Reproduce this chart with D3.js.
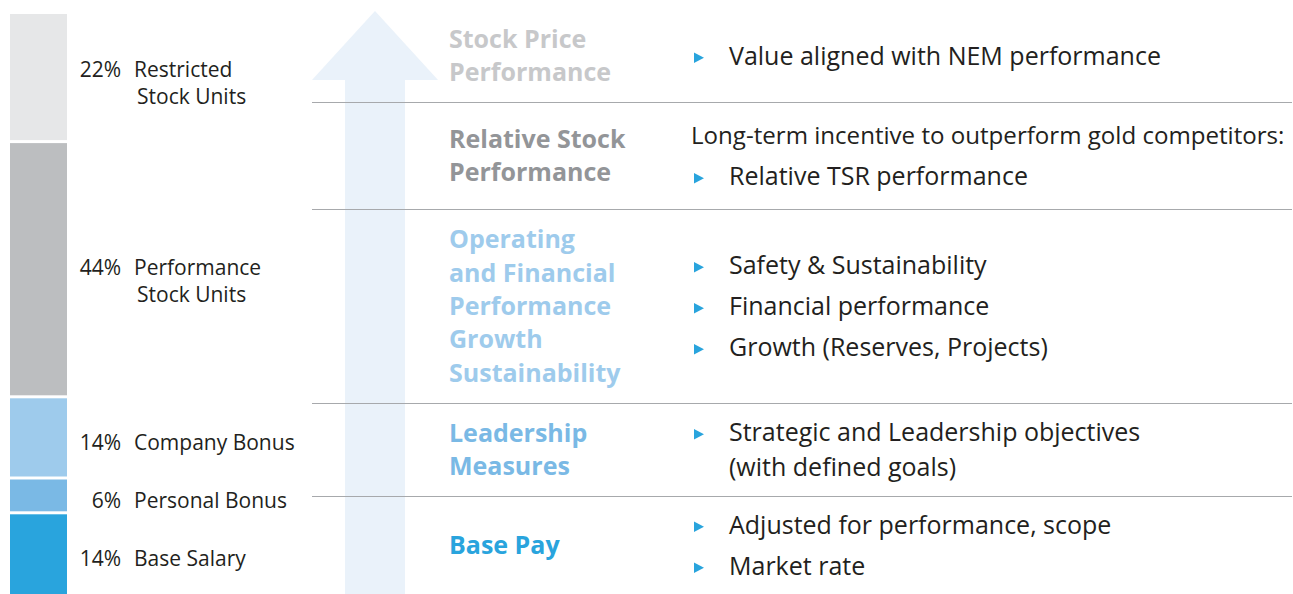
<!DOCTYPE html>
<html>
<head>
<meta charset="utf-8">
<script src="https://cdn.jsdelivr.net/npm/d3@7"></script>
<style>
  body { margin: 0; background: #fff; }
  svg { display: block; font-family: "Open Sans", sans-serif; }
</style>
</head>
<body>
<svg id="chart"></svg>
<script>
// Pay mix, stacked from the bottom up.
const components = ["Base Salary", "Personal Bonus", "Company Bonus", "Performance Stock Units", "Restricted Stock Units"];
const shares = [14, 6, 14, 44, 22];
const componentLabels = [["Base Salary"], ["Personal Bonus"], ["Company Bonus"], ["Performance", "Stock Units"], ["Restricted", "Stock Units"]];
const componentColors = ["#29a4dd", "#7ab9e5", "#9ecbec", "#bcbec0", "#e6e7e8"];

// Ladder of measures, top to bottom.
const levelHeadings = [
  ["Stock Price", "Performance"],
  ["Relative Stock", "Performance"],
  ["Operating", "and Financial", "Performance", "Growth", "Sustainability"],
  ["Leadership", "Measures"],
  ["Base Pay"]
];
const levelColors = ["#c7c8ca", "#939598", "#9ecbec", "#7ab9e5", "#29a4dd"];
// Each item: [hasBullet, lines]
const levelDetails = [
  [[true, ["Value aligned with NEM performance"]]],
  [[false, ["Long-term incentive to outperform gold competitors:"]], [true, ["Relative TSR performance"]]],
  [[true, ["Safety & Sustainability"]], [true, ["Financial performance"]], [true, ["Growth (Reserves, Projects)"]]],
  [[true, ["Strategic and Leadership objectives", "(with defined goals)"]]],
  [[true, ["Adjusted for performance, scope"]], [true, ["Market rate"]]]
];

const width = 1293, height = 594;
const svg = d3.select("#chart").attr("width", width).attr("height", height);

// Stacked bar.
const yScale = d3.scaleLinear().domain([0, 100]).range([height, 14]);
const stacked = d3.stack().keys(components)([Object.fromEntries(components.map((c, i) => [c, shares[i]]))]);

const gap = 3;
svg.append("g")
  .selectAll("rect")
  .data(stacked)
  .join("rect")
  .attr("x", 10)
  .attr("width", 57)
  .attr("y", d => yScale(d[0][1]) + (d[0][1] >= 100 ? 0 : gap / 2))
  .attr("height", d => yScale(d[0][0]) - yScale(d[0][1]) - (d[0][1] >= 100 ? gap / 2 : gap) + (d[0][0] <= 0 ? gap / 2 : 0))
  .attr("fill", (d, i) => componentColors[i]);

// Bar labels: centred on the segment, a bit lower for the tall one.
const labelLine = 27;
const labels = svg.append("g")
  .selectAll("g")
  .data(stacked)
  .join("g")
  .attr("transform", (d, i) => {
    const top = yScale(d[0][1]), bottom = yScale(d[0][0]);
    const mid = (top + bottom) / 2 + (bottom - top > 200 ? 6 : 0);
    const n = componentLabels[i].length;
    return `translate(0,${mid - (n - 1) * labelLine / 2 + 13})`;
  })
  .attr("font-size", 21)
  .attr("fill", "#231f20");

labels.append("text")
  .attr("x", 121)
  .attr("text-anchor", "end")
  .text((d, i) => `${shares[i]}%`);

labels.each(function (d, i) {
  d3.select(this)
    .selectAll("text.name")
    .data(componentLabels[i])
    .join("text")
    .attr("class", "name")
    .attr("x", (t, j) => j === 0 ? 134 : 137)
    .attr("y", (t, j) => j * labelLine)
    .text(t => t);
});

// Arrow.
svg.append("path")
  .attr("d", d3.line()([[375, 11], [438, 80], [405, 80], [405, height], [345, height], [345, 80], [312, 80]]) + "Z")
  .attr("fill", "#eaf2fa");

// Rows.
const rowEdges = [9, 102, 209, 403, 496, height];
svg.append("g")
  .selectAll("line")
  .data(rowEdges.slice(1, -1))
  .join("line")
  .attr("x1", 312)
  .attr("x2", 1292)
  .attr("y1", d => d + 0.5)
  .attr("y2", d => d + 0.5)
  .attr("stroke", "#a7a9ac")
  .attr("stroke-width", 1);

const headLine = 33.4;
levelHeadings.forEach((lines, i) => {
  const mid = (rowEdges[i] + rowEdges[i + 1]) / 2;
  const first = mid - (lines.length - 1) * headLine / 2 + 9;
  svg.append("g")
    .selectAll("text")
    .data(lines)
    .join("text")
    .attr("x", 449)
    .attr("y", (t, j) => first + j * headLine)
    .attr("font-size", 25)
    .attr("font-weight", 700)
    .attr("fill", levelColors[i])
    .text(t => t);
});

// Detail text with bullets.
const itemStep = 41, wrapStep = 35, rightEdge = 1286, detailSize = 25;
levelDetails.forEach((items, i) => {
  const rows = [];
  let y = 0;
  items.forEach(([bullet, lines], k) => {
    if (k > 0) y += itemStep;
    lines.forEach((t, j) => {
      if (j > 0) y += wrapStep;
      rows.push({ t, y, bullet: bullet && j === 0, indent: bullet });
    });
  });
  const mid = (rowEdges[i] + rowEdges[i + 1]) / 2;
  const offset = mid - y / 2;
  const g = svg.append("g").attr("transform", `translate(0,${offset})`);

  g.selectAll("text")
    .data(rows)
    .join("text")
    .attr("x", d => d.indent ? 729 : 691)
    .attr("y", d => d.y + 9)
    .attr("font-size", detailSize)
    .attr("fill", "#231f20")
    .text(d => d.t)
    .each(function (d) {
      // shrink a line that would run past the right edge
      const x = d.indent ? 729 : 691;
      const len = this.getComputedTextLength();
      if (x + len > rightEdge) {
        d3.select(this).attr("font-size", Math.floor(detailSize * (rightEdge - x) / len * 10) / 10);
      }
    });

  g.selectAll("path")
    .data(rows.filter(d => d.bullet))
    .join("path")
    .attr("d", d => `M694,${d.y + 2.2 - 5.2}L704,${d.y + 2.2}L694,${d.y + 2.2 + 5.2}Z`)
    .attr("fill", "#29a4dd");
});
</script>
</body>
</html>
